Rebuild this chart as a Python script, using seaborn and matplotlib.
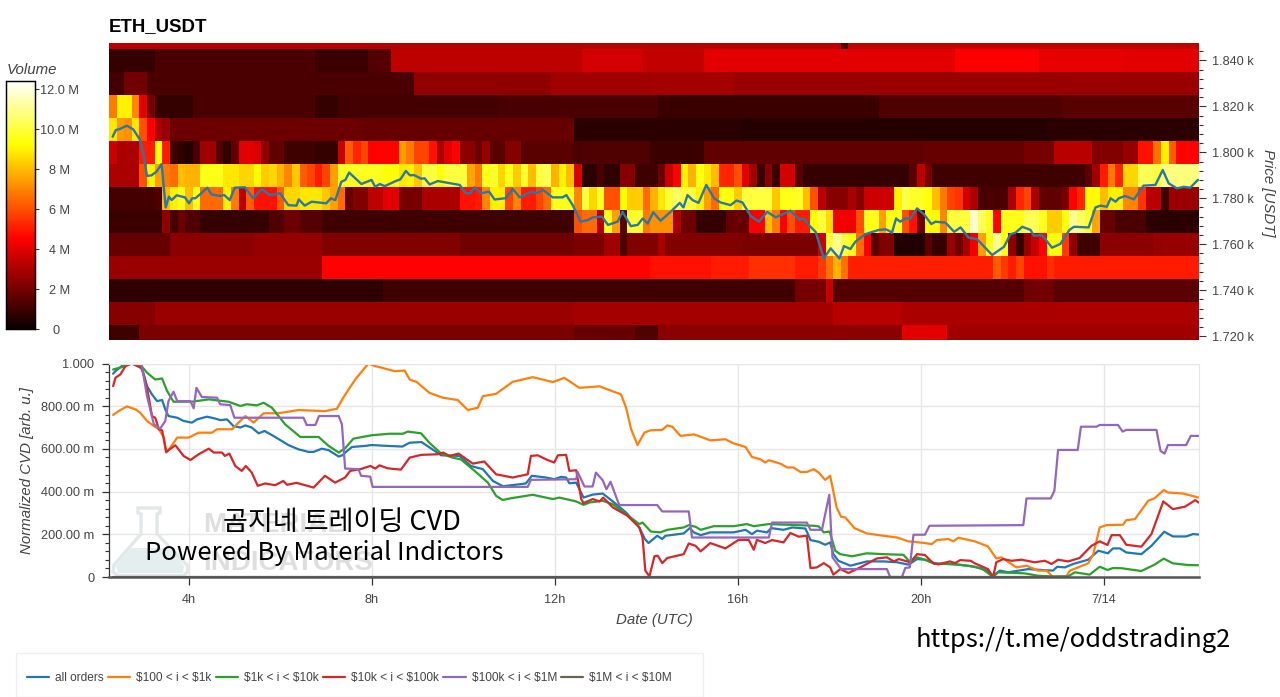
import numpy as np
import pandas as pd
import seaborn as sns
import matplotlib
matplotlib.use("Agg")
import matplotlib.pyplot as plt
from matplotlib.lines import Line2D
from matplotlib.patches import Polygon, Rectangle

sns.set_theme(style="white")
plt.rcParams["font.family"] = ["Liberation Sans", "DejaVu Sans"]

# ---- volume profile: 10 minute columns, each row as (last column, volume in millions) ----
N_COLS = 143
START_HOUR = 2.26
PRICE_LEVELS = [1850, 1840, 1830, 1820, 1810, 1800, 1790, 1780, 1770, 1760, 1750, 1740, 1730, 1720]

ROW_1850 = [(95, 3.2), (96, 1.3), (142, 3.4)]
ROW_1840 = [(5, 0.8), (26, 1.2), (33, 0.9), (36, 1.4), (61, 3.3), (69, 3.7), (77, 3.4),
            (110, 4.0), (121, 4.5), (132, 4.1), (142, 4.0)]
ROW_1830 = [(1, 1.1), (4, 1.9), (39, 1.2), (57, 2.5), (70, 2.8), (81, 2.9), (142, 2.7)]
ROW_1820 = [(0, 6.8), (2, 9.0), (3, 7.0), (4, 4.0), (5, 2.0), (10, 0.8), (26, 1.2), (29, 0.8),
            (50, 1.1), (71, 1.2), (100, 0.9), (124, 1.3), (142, 1.5)]
ROW_1810 = [(0, 8.8), (1, 7.4), (2, 7.2), (3, 8.8), (4, 6.0), (5, 4.5), (6, 3.0), (7, 2.6),
            (32, 1.8), (60, 1.7), (82, 0.6), (122, 0.5), (142, 0.6)]
ROW_1800 = [(0, 3.5), (3, 3.0), (5, 5.0), (6, 9.3), (7, 5.0), (8, 1.0), (9, 0.7), (10, 0.5),
            (11, 1.2), (13, 2.8), (14, 1.4), (15, 0.7), (16, 1.6), (18, 4.0), (19, 3.8),
            (20, 2.5), (22, 1.6), (26, 1.0), (29, 0.8), (30, 3.5), (31, 6.2), (32, 5.2),
            (33, 5.8), (37, 4.6), (38, 7.4), (39, 6.8), (41, 5.8), (42, 4.8), (43, 3.0),
            (44, 4.0), (45, 4.6), (47, 2.4), (48, 1.8), (49, 2.6), (51, 1.5), (53, 2.3),
            (60, 1.5), (61, 1.2), (70, 1.3), (77, 0.9), (106, 1.6), (119, 1.7), (123, 2.0),
            (128, 3.2), (132, 2.2), (134, 2.6), (136, 4.8), (137, 6.6), (138, 9.0),
            (139, 6.2), (142, 4.6)]
ROW_1790 = [(3, 3.0), (4, 6.0), (5, 9.0), (6, 7.5), (7, 6.8), (8, 6.5), (9, 8.0), (11, 7.8),
            (14, 9.5), (16, 8.8), (18, 8.5), (19, 9.2), (20, 8.3), (21, 8.5), (22, 7.8),
            (23, 7.0), (24, 8.2), (25, 6.2), (26, 5.8), (27, 5.0), (28, 5.8), (29, 7.5),
            (35, 9.6), (37, 9.3), (38, 8.8), (39, 9.0), (40, 8.2), (42, 10.0), (43, 9.3),
            (46, 10.0), (47, 7.6), (48, 6.8), (49, 9.5), (50, 9.8), (51, 8.5), (52, 9.5),
            (53, 8.3), (54, 9.8), (55, 8.0), (56, 10.0), (57, 10.3), (58, 7.8), (59, 9.0),
            (60, 8.0), (61, 3.8), (63, 0.6), (64, 1.2), (66, 0.7), (68, 2.3), (71, 1.0),
            (72, 1.8), (73, 3.5), (74, 4.6), (75, 9.0), (76, 7.8), (77, 9.4), (78, 8.8),
            (79, 8.0), (81, 5.2), (82, 6.0), (83, 4.0), (84, 2.8), (85, 0.9), (86, 2.3),
            (87, 0.9), (89, 3.8), (90, 1.5), (104, 0.8), (105, 1.5), (106, 3.3), (107, 2.0),
            (127, 1.0), (128, 1.5), (129, 2.8), (130, 5.0), (131, 6.8), (132, 5.2),
            (134, 8.5), (136, 10.3), (137, 10.0), (142, 10.8)]
ROW_1780 = [(5, 1.1), (6, 1.3), (7, 8.0), (8, 9.0), (9, 9.5), (10, 8.0), (11, 9.5), (14, 6.5),
            (15, 9.0), (16, 6.8), (17, 3.2), (18, 6.2), (21, 4.8), (22, 6.2), (24, 8.5),
            (27, 8.8), (28, 8.2), (29, 7.5), (30, 6.5), (31, 1.7), (33, 2.2), (35, 3.3),
            (37, 4.0), (40, 2.0), (45, 3.0), (47, 4.8), (48, 5.0), (49, 7.0), (51, 9.0),
            (52, 5.8), (53, 7.0), (55, 5.0), (56, 5.8), (57, 6.5), (60, 9.5), (61, 7.0),
            (62, 10.0), (63, 8.5), (64, 9.7), (66, 6.0), (67, 9.2), (69, 8.3), (70, 6.5),
            (71, 7.8), (72, 8.8), (73, 9.9), (74, 10.5), (76, 10.0), (77, 9.0), (78, 7.5),
            (79, 6.5), (81, 9.3), (82, 8.3), (86, 10.0), (87, 8.2), (89, 9.5), (90, 9.7),
            (91, 8.0), (92, 6.0), (93, 3.2), (96, 2.3), (97, 3.0), (98, 2.3), (102, 3.6),
            (103, 9.0), (104, 10.2), (106, 9.7), (107, 9.3), (108, 8.0), (109, 6.8),
            (110, 5.8), (111, 5.5), (112, 3.7), (113, 3.0), (117, 1.2), (118, 3.0),
            (119, 5.2), (120, 5.8), (121, 3.0), (124, 1.6), (125, 2.0), (126, 4.6),
            (127, 5.2), (129, 9.2), (130, 8.0), (132, 9.0), (134, 7.0), (135, 5.5),
            (137, 3.2), (138, 1.0), (142, 2.7)]
ROW_1770 = [(6, 0.9), (7, 2.5), (8, 1.1), (9, 1.8), (11, 1.3), (20, 0.8), (22, 1.3), (24, 1.8),
            (27, 1.4), (36, 1.0), (60, 1.0), (61, 6.0), (63, 6.5), (64, 3.2), (65, 9.5),
            (66, 7.5), (67, 1.5), (69, 9.8), (70, 6.8), (73, 7.2), (74, 3.0), (76, 1.8),
            (80, 0.8), (83, 1.7), (85, 4.5), (86, 8.0), (87, 6.8), (88, 4.5), (89, 6.0),
            (91, 5.0), (92, 9.3), (93, 10.0), (94, 8.6), (97, 4.3), (98, 6.0), (100, 9.5),
            (101, 7.5), (103, 9.5), (104, 6.0), (105, 4.8), (106, 1.8), (108, 9.2),
            (109, 7.0), (112, 10.0), (113, 11.8), (114, 10.3), (115, 9.5), (116, 4.6),
            (119, 9.5), (121, 10.3), (122, 9.6), (124, 8.3), (125, 9.3), (126, 11.0),
            (127, 10.5), (128, 9.8), (129, 7.6), (131, 1.7), (135, 1.2), (142, 0.6)]
ROW_1760 = [(7, 1.7), (18, 2.4), (27, 2.6), (45, 2.2), (60, 1.9), (64, 2.1), (66, 2.8),
            (67, 1.2), (71, 2.2), (72, 3.0), (82, 2.2), (92, 2.1), (93, 3.6), (94, 10.0),
            (95, 11.0), (96, 10.0), (97, 9.4), (98, 6.5), (99, 4.5), (100, 1.5), (102, 2.2),
            (106, 0.4), (107, 1.5), (109, 0.8), (110, 2.7), (111, 1.8), (112, 3.0),
            (113, 4.3), (114, 7.5), (115, 9.5), (116, 11.0), (117, 9.5), (118, 2.5),
            (119, 0.8), (120, 2.6), (121, 3.5), (122, 4.5), (124, 9.3), (125, 5.6),
            (126, 2.5), (129, 1.0), (136, 2.4), (142, 2.6)]
ROW_1750 = [(27, 2.7), (70, 4.6), (78, 4.8), (83, 5.0), (89, 5.4), (92, 5.0), (93, 5.6),
            (94, 6.6), (95, 7.8), (96, 6.6), (115, 5.1), (116, 6.2), (117, 5.6), (118, 5.0),
            (119, 5.8), (122, 4.8), (123, 5.4), (142, 5.0)]
ROW_1740 = [(35, 0.7), (89, 1.0), (93, 2.0), (94, 3.5), (119, 1.4), (123, 1.9), (142, 1.5)]
ROW_1730 = [(5, 2.3), (60, 2.7), (94, 2.9), (103, 3.2), (142, 3.0)]
ROW_1720 = [(3, 1.0), (60, 2.1), (68, 1.7), (71, 1.3), (103, 2.4), (109, 4.0), (142, 2.8)]

# ---- mid price over time ----
PRICE_HOURS = [2.34, 2.41, 2.50, 2.65, 2.79, 2.94, 3.01, 3.09, 3.19, 3.30, 3.41, 3.50, 3.57, 3.63, 3.74,
               3.92, 4.01, 4.08, 4.15, 4.29, 4.41, 4.50, 4.69, 4.78, 4.90, 5.01, 5.23, 5.41, 5.60, 5.78,
               6.00, 6.18, 6.36, 6.41, 6.54, 6.69, 7.01, 7.11, 7.21, 7.34, 7.43, 7.51, 7.78, 8.00, 8.08,
               8.18, 8.29, 8.54, 8.63, 8.75, 8.84, 8.93, 9.09, 9.16, 9.27, 9.45, 9.93, 10.06, 10.16, 10.25,
               10.40, 10.57, 10.69, 10.93, 11.09, 11.24, 11.49, 11.60, 11.75, 11.96, 12.18, 12.26, 12.40,
               12.57, 12.73, 12.84, 13.04, 13.17, 13.38, 13.49, 13.67, 13.82, 13.93, 14.04, 14.16, 14.32,
               14.54, 14.74, 14.82, 14.91, 15.02, 15.15, 15.32, 15.49, 15.63, 15.85, 15.98, 16.11, 16.29,
               16.47, 16.65, 16.84, 17.16, 17.35, 17.45, 17.56, 17.71, 17.89, 18.04, 18.23, 18.33, 18.47,
               18.58, 18.80, 19.09, 19.24, 19.31, 19.38, 19.47, 19.56, 19.67, 19.78, 19.93, 20.08, 20.24,
               20.33, 20.55, 20.74, 20.88, 21.06, 21.24, 21.57, 21.83, 21.97, 22.08, 22.23, 22.41, 22.48,
               22.66, 22.88, 23.06, 23.26, 23.36, 23.68, 23.83, 23.94, 24.08, 24.16, 24.27, 24.34, 24.48,
               24.67, 24.88, 25.14, 25.30, 25.43, 25.61, 25.76, 25.90, 26.07]
PRICE_VALUES = [1806.8, 1809.7, 1810.2, 1811.6, 1810.0, 1805.4, 1799.6, 1789.7, 1790.0, 1791.6, 1794.9, 1776.0,
                1780.7, 1779.2, 1781.3, 1780.4, 1777.8, 1780.0, 1780.0, 1782.4, 1784.6, 1781.7, 1781.0, 1781.4,
                1779.2, 1784.6, 1784.8, 1780.0, 1784.0, 1781.4, 1782.2, 1777.0, 1776.8, 1779.5, 1776.8, 1778.5,
                1777.8, 1780.0, 1779.2, 1787.2, 1788.0, 1791.2, 1786.2, 1788.0, 1785.0, 1786.2, 1785.3, 1787.6,
                1788.2, 1791.9, 1790.0, 1790.1, 1788.5, 1788.7, 1786.0, 1787.5, 1785.8, 1782.2, 1782.2, 1784.8,
                1782.2, 1782.9, 1779.5, 1780.0, 1784.0, 1780.4, 1782.9, 1782.2, 1783.6, 1780.4, 1780.4, 1781.4,
                1777.0, 1769.8, 1770.5, 1771.7, 1772.0, 1768.4, 1769.8, 1774.1, 1767.9, 1768.4, 1771.2, 1769.0,
                1773.9, 1770.2, 1774.1, 1778.0, 1776.0, 1781.4, 1779.2, 1778.0, 1785.8, 1780.0, 1778.2, 1777.0,
                1779.0, 1778.2, 1772.3, 1769.8, 1774.1, 1771.7, 1774.6, 1770.8, 1771.2, 1768.4, 1765.4, 1753.8,
                1758.2, 1753.8, 1759.2, 1757.9, 1761.1, 1764.4, 1766.2, 1766.5, 1765.9, 1765.0, 1771.2, 1769.8,
                1771.2, 1771.2, 1775.6, 1773.0, 1768.8, 1769.8, 1769.4, 1765.4, 1767.3, 1762.8, 1762.2, 1755.3,
                1758.9, 1764.3, 1765.0, 1767.6, 1766.2, 1763.7, 1764.0, 1758.5, 1760.1, 1766.2, 1767.6, 1767.3,
                1776.0, 1776.8, 1776.3, 1780.0, 1778.5, 1780.0, 1781.0, 1779.5, 1785.5, 1785.8, 1792.3, 1786.5,
                1784.3, 1785.0, 1784.6, 1788.0]

# ---- normalized cumulative volume delta, thousandths of the full scale ----
ALL_HOURS = [2.35, 2.40, 2.54, 2.73, 2.94, 3.02, 3.09, 3.20, 3.31, 3.42, 3.49, 3.56, 3.75, 3.89, 4.07, 4.18, 4.40,
             4.58, 4.69, 4.84, 4.98, 5.13, 5.24, 5.38, 5.53, 5.66, 5.89, 6.18, 6.40, 6.62, 6.73, 6.91, 7.06, 7.28,
             7.36, 7.46, 7.57, 7.86, 8.00, 8.35, 8.67, 8.83, 9.09, 9.27, 9.52, 9.92, 10.17, 10.43, 10.65, 10.87,
             11.37, 11.50, 11.81, 11.99, 12.14, 12.25, 12.32, 12.47, 12.63, 12.83, 13.05, 13.27, 13.56, 13.85,
             13.97, 14.05, 14.24, 14.35, 14.42, 14.82, 14.95, 15.04, 15.19, 15.40, 15.91, 16.17, 16.31, 16.42,
             16.64, 16.73, 17.00, 17.19, 17.48, 17.59, 17.77, 17.91, 18.02, 18.09, 18.20, 18.46, 18.82, 19.19,
             19.48, 19.73, 19.92, 20.09, 20.31, 20.82, 21.18, 21.44, 21.58, 21.73, 21.91, 22.35, 22.64, 22.89,
             22.98, 23.15, 23.33, 23.66, 23.88, 24.09, 24.20, 24.35, 24.49, 24.82, 25.04, 25.32, 25.51, 25.80,
             25.95, 26.07]
ALL_VALUES = [952, 964, 988, 1000, 992, 949, 894, 855, 824, 829, 785, 754, 746, 731, 723, 738, 751, 742, 735, 738,
              707, 700, 710, 700, 673, 684, 656, 618, 598, 586, 586, 601, 594, 564, 570, 590, 609, 614, 618, 614,
              611, 629, 632, 606, 570, 567, 520, 505, 450, 425, 438, 474, 466, 458, 469, 466, 439, 442, 372, 386,
              391, 354, 302, 232, 178, 159, 193, 178, 193, 204, 229, 209, 196, 209, 209, 221, 201, 217, 209, 229,
              221, 232, 227, 173, 165, 151, 162, 107, 76, 53, 73, 73, 69, 58, 84, 81, 64, 58, 48, 30, 6, 30, 22,
              37, 33, 30, 48, 45, 61, 81, 123, 111, 134, 134, 115, 107, 146, 212, 190, 190, 201, 199]

SMALL_HOURS = [2.35, 2.47, 2.65, 2.84, 2.94, 3.09, 3.24, 3.35, 3.46, 3.51, 3.60, 3.75, 4.00, 4.22, 4.51, 4.62, 4.95,
               5.09, 5.24, 5.42, 5.64, 5.96, 6.40, 6.98, 7.24, 7.38, 7.64, 7.93, 8.07, 8.17, 8.50, 8.72, 8.83, 8.98,
               9.26, 9.55, 9.88, 10.10, 10.32, 10.43, 10.72, 11.08, 11.52, 11.96, 12.21, 12.54, 12.98, 13.45, 13.56,
               13.67, 13.81, 13.96, 14.09, 14.35, 14.46, 14.57, 14.75, 15.04, 15.19, 15.40, 15.73, 15.91, 16.17,
               16.31, 16.49, 16.60, 16.68, 16.93, 17.08, 17.22, 17.37, 17.51, 17.66, 17.77, 17.91, 18.02, 18.16,
               18.26, 18.35, 18.55, 18.82, 19.19, 19.48, 19.73, 20.09, 20.24, 20.35, 20.60, 20.71, 20.82, 21.18,
               21.47, 21.65, 21.76, 22.09, 22.31, 22.56, 22.75, 22.89, 23.18, 23.26, 23.66, 23.77, 23.91, 24.06,
               24.42, 24.49, 24.68, 24.97, 25.11, 25.31, 25.40, 25.73, 26.07]
SMALL_VALUES = [759, 777, 799, 785, 770, 731, 707, 692, 653, 583, 606, 653, 653, 676, 676, 692, 692, 723, 754, 723,
                767, 767, 782, 777, 788, 840, 925, 1000, 988, 983, 964, 967, 925, 914, 863, 840, 829, 782, 793, 847,
                858, 914, 936, 913, 933, 886, 893, 855, 793, 692, 618, 676, 687, 689, 710, 704, 661, 668, 657, 640,
                645, 626, 609, 562, 552, 536, 547, 531, 513, 513, 492, 492, 505, 489, 455, 474, 326, 282, 279, 229,
                204, 193, 185, 167, 159, 154, 173, 178, 167, 184, 167, 143, 87, 92, 45, 53, 30, 30, 0, 3, 30, 64,
                107, 232, 243, 245, 266, 271, 357, 369, 407, 396, 391, 372]

MID_HOURS = [2.35, 2.54, 2.73, 2.94, 3.09, 3.27, 3.42, 3.53, 3.67, 4.07, 4.44, 4.87, 5.13, 5.27, 5.49, 5.64, 5.82,
             6.11, 6.44, 6.84, 7.06, 7.28, 7.42, 7.60, 8.00, 8.39, 8.68, 8.79, 9.08, 9.26, 9.52, 9.77, 9.95, 10.25,
             10.54, 10.72, 10.86, 11.05, 11.52, 11.96, 12.10, 12.47, 12.63, 12.76, 13.05, 13.27, 13.56, 13.85, 13.92,
             14.10, 14.31, 14.46, 14.82, 14.93, 15.08, 15.19, 15.48, 15.91, 16.20, 16.35, 16.68, 17.30, 17.66, 17.77,
             17.88, 18.01, 18.13, 18.24, 18.50, 18.82, 19.19, 19.62, 19.77, 19.92, 20.09, 20.31, 20.67, 21.03, 21.33,
             21.58, 21.69, 22.27, 22.56, 22.86, 23.22, 23.37, 23.69, 23.91, 24.08, 24.20, 24.39, 24.82, 25.11, 25.31,
             25.51, 25.84, 26.07]
MID_VALUES = [972, 983, 1000, 996, 957, 925, 930, 871, 821, 821, 832, 821, 801, 809, 804, 816, 793, 715, 656, 656,
              614, 583, 603, 648, 664, 671, 671, 681, 673, 629, 578, 559, 551, 497, 442, 380, 361, 369, 385, 365, 372,
              354, 338, 349, 357, 341, 294, 248, 255, 213, 209, 221, 232, 243, 235, 221, 238, 238, 248, 238, 248, 243,
              240, 237, 209, 213, 123, 107, 97, 111, 107, 104, 69, 92, 81, 61, 61, 53, 41, 0, 22, 17, 6, 3, 3, 22, 11,
              48, 33, 42, 41, 28, 58, 86, 64, 56, 55]

LARGE_HOURS = [2.35, 2.40, 2.51, 2.62, 2.76, 2.98, 3.09, 3.20, 3.27, 3.35, 3.42, 3.51, 3.71, 3.89, 4.04, 4.22, 4.44,
               4.55, 4.73, 4.79, 4.89, 5.02, 5.16, 5.25, 5.38, 5.51, 5.67, 5.89, 6.07, 6.15, 6.36, 6.73, 6.98, 7.20,
               7.42, 7.53, 7.75, 7.97, 8.08, 8.17, 8.35, 8.64, 8.83, 9.08, 9.45, 9.56, 9.70, 9.90, 10.21, 10.46, 10.72,
               11.08, 11.41, 11.48, 11.63, 11.81, 11.99, 12.07, 12.25, 12.32, 12.47, 12.58, 12.63, 12.83, 12.98, 13.06,
               13.27, 13.59, 13.85, 13.92, 13.98, 14.07, 14.18, 14.25, 14.35, 14.46, 14.82, 14.93, 15.08, 15.19, 15.40,
               15.73, 16.02, 16.24, 16.35, 16.42, 16.60, 16.75, 17.00, 17.15, 17.33, 17.51, 17.59, 17.73, 17.88, 18.02,
               18.09, 18.24, 18.42, 18.68, 19.04, 19.26, 19.41, 19.52, 19.77, 19.92, 20.09, 20.27, 20.38, 20.64, 20.75,
               20.86, 21.09, 21.18, 21.47, 21.58, 21.65, 21.80, 21.98, 22.20, 22.49, 22.71, 22.86, 23.00, 23.22, 23.47,
               23.73, 23.91, 24.08, 24.17, 24.35, 24.49, 24.82, 25.04, 25.30, 25.51, 25.77, 26.00, 26.07]
LARGE_VALUES = [894, 933, 949, 988, 1000, 977, 887, 754, 746, 692, 687, 586, 617, 567, 548, 575, 601, 583, 583, 567,
                578, 520, 497, 520, 489, 427, 438, 430, 450, 432, 441, 419, 474, 442, 466, 497, 505, 520, 508, 523, 509,
                503, 559, 572, 575, 583, 567, 578, 531, 541, 481, 466, 481, 567, 570, 551, 536, 570, 572, 497, 500, 365,
                346, 365, 354, 372, 326, 287, 232, 185, 30, 3, 97, 100, 65, 89, 107, 157, 146, 120, 159, 134, 174, 174,
                128, 174, 159, 173, 162, 206, 189, 193, 42, 45, 65, 45, 11, 37, 19, 45, 87, 92, 73, 84, 69, 107, 103, 65,
                59, 73, 65, 79, 76, 64, 37, 0, 69, 84, 76, 81, 69, 76, 61, 81, 73, 89, 146, 167, 150, 196, 196, 151, 142,
                201, 354, 318, 329, 360, 349]

BLOCK_HOURS = [2.35, 2.97, 3.09, 3.24, 3.38, 3.49, 3.56, 3.67, 3.75, 4.04, 4.11, 4.17, 4.29, 4.62, 4.69, 4.91, 5.00,
               6.51, 6.58, 6.77, 6.85, 7.28, 7.35, 7.42, 7.71, 7.77, 7.97, 8.02, 11.41, 11.48, 12.47, 12.50, 12.65,
               12.83, 12.90, 13.05, 13.13, 13.22, 13.41, 14.24, 14.35, 14.93, 15.00, 16.68, 16.75, 17.51, 17.59, 17.84,
               18.00, 18.07, 18.26, 19.26, 19.33, 19.59, 19.66, 19.76, 19.84, 20.09, 20.19, 22.24, 22.31, 22.84, 22.92,
               23.00, 23.43, 23.50, 23.84, 23.91, 24.31, 24.41, 24.49, 25.15, 25.24, 25.33, 25.40, 25.80, 25.90, 26.07]
BLOCK_VALUES = [1000, 1000, 848, 715, 695, 731, 824, 868, 824, 824, 790, 886, 843, 840, 809, 805, 746, 746, 712, 712,
                754, 754, 715, 508, 505, 474, 470, 422, 422, 455, 458, 492, 424, 424, 489, 453, 411, 446, 337, 337, 307,
                307, 185, 185, 255, 255, 221, 221, 385, 92, 37, 37, 0, 0, 42, 45, 198, 198, 240, 243, 368, 368, 404, 595,
                595, 704, 704, 712, 712, 681, 689, 689, 590, 578, 618, 618, 661, 661]

WHALE_HOURS = [2.35, 19.3, 22.9, 23.2]
WHALE_VALUES = [0, 0, 0, 0]

CVD_SERIES = [
    ("all orders", ALL_HOURS, ALL_VALUES, "#1f77b4"),
    (r"\$100 < i < \$1k", SMALL_HOURS, SMALL_VALUES, "#ff7f0e"),
    (r"\$1k < i < \$10k", MID_HOURS, MID_VALUES, "#2ca02c"),
    (r"\$10k < i < \$100k", LARGE_HOURS, LARGE_VALUES, "#d62728"),
    (r"\$100k < i < \$1M", BLOCK_HOURS, BLOCK_VALUES, "#9467bd"),
    (r"\$1M < i < \$10M", WHALE_HOURS, WHALE_VALUES, "#6b6250"),
]

PRICE_TICKS = [1720, 1740, 1760, 1780, 1800, 1820, 1840]
VOLUME_TICKS = [0, 2, 4, 6, 8, 10, 12]
VOLUME_LABELS = ["0", "2 M", "4 M", "6 M", "8 M", "10.0 M", "12.0 M"]
CVD_TICKS = [0, 200, 400, 600, 800, 1000]
CVD_LABELS = ["0", "200.00 m", "400.00 m", "600.00 m", "800.00 m", "1.000"]
HOUR_TICKS = [4, 8, 12, 16, 20, 24]
HOUR_LABELS = ["4h", "8h", "12h", "16h", "20h", "7/14"]


def expand(runs):
    cells = np.zeros(N_COLS)
    first = 0
    for last, value in runs:
        cells[first:last + 1] = value
        first = last + 1
    return cells


W, H = 1280, 697
fig = plt.figure(figsize=(W / 100, H / 100), dpi=100, facecolor="white")


def axes_px(left, top, right, bottom):
    return fig.add_axes([left / W, 1 - bottom / H, (right - left) / W, (bottom - top) / H])


def col_of(hours):
    return (np.asarray(hours) - START_HOUR) * 6


def row_of(price):
    return (PRICE_LEVELS[0] + 5 - np.asarray(price, dtype=float)) / 10


TEXT = "#444444"
SIZE = 9.2
LABEL_SIZE = 10.8

# ---- top panel: volume heat map with the price on it ----
ax_heat = axes_px(109, 43, 1199, 340)
ax_cbar = axes_px(5.5, 81, 34.5, 329)
grid = np.vstack([expand(r) for r in [ROW_1850, ROW_1840, ROW_1830, ROW_1820, ROW_1810, ROW_1800, ROW_1790,
                                      ROW_1780, ROW_1770, ROW_1760, ROW_1750, ROW_1740, ROW_1730, ROW_1720]])
sns.heatmap(pd.DataFrame(grid, index=PRICE_LEVELS), ax=ax_heat, cmap="hot", vmin=0, vmax=12.4, cbar_ax=ax_cbar,
            xticklabels=False, yticklabels=False, linewidths=0, rasterized=True)
sns.lineplot(x=col_of(PRICE_HOURS), y=row_of(PRICE_VALUES), ax=ax_heat, color="#2878a8", lw=1.7,
             estimator=None, sort=False, legend=False)
ax_heat.set_xlim(0, N_COLS)
ax_heat.set_ylim(row_of(1718.3), row_of(1847.6))
ax_heat.set_xlabel("")
ax_heat.set_ylabel("")
ax_heat.yaxis.tick_right()
ax_heat.set_yticks(row_of(PRICE_TICKS))
ax_heat.set_yticklabels([f"{p / 1000:.3f} k" for p in PRICE_TICKS], fontsize=SIZE, color=TEXT)
ax_heat.set_yticks(row_of(np.arange(1720, 1848, 4)), minor=True)
ax_heat.tick_params(axis="y", which="major", length=5, width=0.8, color="#333333", pad=4)
ax_heat.tick_params(axis="y", which="minor", length=3, width=0.8, color="#333333")
ax_heat.set_xticks([])
ax_heat.text(0, 1.055, "ETH_USDT", transform=ax_heat.transAxes, fontsize=13.4, fontweight="bold",
             color="black", ha="left", va="center")
fig.text(1268 / W, 1 - 193 / H, "Price [USDT]", rotation=-90, style="italic", fontsize=LABEL_SIZE, color=TEXT,
         ha="center", va="center")

ax_cbar.set_yticks(VOLUME_TICKS)
ax_cbar.set_yticklabels(VOLUME_LABELS, fontsize=SIZE, color=TEXT, ha="center")
ax_cbar.get_yticklabels()[0].set_ha("right")
ax_cbar.tick_params(axis="y", which="major", length=3, width=0.8, color="#333333", pad=15, right=True)
for spine in ax_cbar.spines.values():
    spine.set_visible(True)
    spine.set_color("black")
    spine.set_linewidth(0.9)
fig.text(7 / W, 1 - 70 / H, "Volume", style="italic", fontsize=LABEL_SIZE, color=TEXT, ha="left", va="center")

# ---- bottom panel: normalized CVD per order size ----
ax_cvd = axes_px(109, 363.5, 1199, 577)
ax_cvd.set_xlim(START_HOUR, 26.08)
ax_cvd.set_ylim(0, 1000)
ax_cvd.set_axisbelow(True)
ax_cvd.grid(True, color="#e6e6e6", lw=1)

# Faint company mark behind the curves
def px_points(points):
    return [(x / W, 1 - y / H) for x, y in points]


flask = [(138, 508), (160, 508), (160, 513), (157, 514), (157, 534), (187, 565), (188, 572), (183, 575.5),
         (118, 575.5), (113, 572), (114, 565), (141, 534), (141, 514), (138, 513)]
liquid = [(130, 548), (170, 548), (184, 566), (183, 573), (118, 573), (116, 566)]
ax_cvd.add_patch(Polygon(px_points(flask), closed=True, transform=fig.transFigure, facecolor="white",
                         edgecolor="#e2e7e7", lw=2.4, zorder=0.5))
ax_cvd.add_patch(Polygon(px_points(liquid), closed=True, transform=fig.transFigure, facecolor="#e4eeee",
                         edgecolor="none", zorder=0.6))
for word, py in (("MATERIAL", 525), ("INDICATORS", 563)):
    ax_cvd.text(203 / W, 1 - py / H, word, transform=fig.transFigure, fontsize=20, fontweight="bold",
                color="#dedede", ha="left", va="center", zorder=0.7)

handles = []
for name, hours, values, color in CVD_SERIES:
    sns.lineplot(x=hours, y=values, ax=ax_cvd, color=color, lw=1.6, estimator=None, sort=False, legend=False)
    handles.append(Line2D([], [], color=color, lw=1.6, label=name))

ax_cvd.set_xticks(HOUR_TICKS)
ax_cvd.set_xticklabels(HOUR_LABELS, fontsize=SIZE, color=TEXT)
ax_cvd.set_yticks(CVD_TICKS)
ax_cvd.set_yticklabels(CVD_LABELS, fontsize=SIZE, color=TEXT)
ax_cvd.set_yticks(np.arange(0, 1001, 40), minor=True)
ax_cvd.tick_params(axis="x", which="major", length=6, width=0.9, color="#333333", pad=6, bottom=True)
ax_cvd.tick_params(axis="y", which="major", length=5, width=0.9, color="#333333", pad=5.5, left=True)
ax_cvd.tick_params(axis="y", which="minor", length=3, width=0.8, color="#333333", left=True)
ax_cvd.set_xlabel("")
ax_cvd.set_ylabel("")
for side, color, width in (("top", "#e6e6e6", 0.8), ("right", "#e6e6e6", 0.8), ("left", "#333333", 0.9),
                           ("bottom", "#555555", 1.8)):
    ax_cvd.spines[side].set_visible(True)
    ax_cvd.spines[side].set_color(color)
    ax_cvd.spines[side].set_linewidth(width)
fig.text(27 / W, 1 - 471 / H, "Normalized CVD [arb. u.]", rotation=90, style="italic", fontsize=LABEL_SIZE,
         color=TEXT, ha="center", va="center")
fig.text(654 / W, 1 - 620 / H, "Date (UTC)", style="italic", fontsize=LABEL_SIZE, color=TEXT, ha="center", va="center")

# ---- legend strip under the panels ----
fig.add_artist(Rectangle((16 / W, 0), 687 / W, 44 / H, transform=fig.transFigure, facecolor="white",
                         edgecolor="#eeeeee", lw=1))
fig.legend(handles=handles, loc="center left", bbox_to_anchor=(27 / W, 1 - 678 / H), ncol=6, frameon=False,
           fontsize=8.6, labelcolor=TEXT, handlelength=1.88, handletextpad=0.5, columnspacing=0.33,
           borderaxespad=0, borderpad=0)

# ---- captions laid over the chart ----
CJK = ["Noto Sans CJK KR", "DejaVu Sans"]
fig.text(342 / W, 1 - 523 / H, "곰지네 트레이딩 CVD", family=CJK, fontsize=19.5, color="black", ha="center", va="center")
fig.text(324.5 / W, 1 - 553 / H, "Powered By Material Indictors", family=CJK, fontsize=18.4, color="black",
         ha="center", va="center")
fig.text(1073.5 / W, 1 - 640 / H, "https://t.me/oddstrading2", family=CJK, fontsize=18.4, color="black",
         ha="center", va="center")

fig.savefig("out.png", dpi=100, facecolor="white")
